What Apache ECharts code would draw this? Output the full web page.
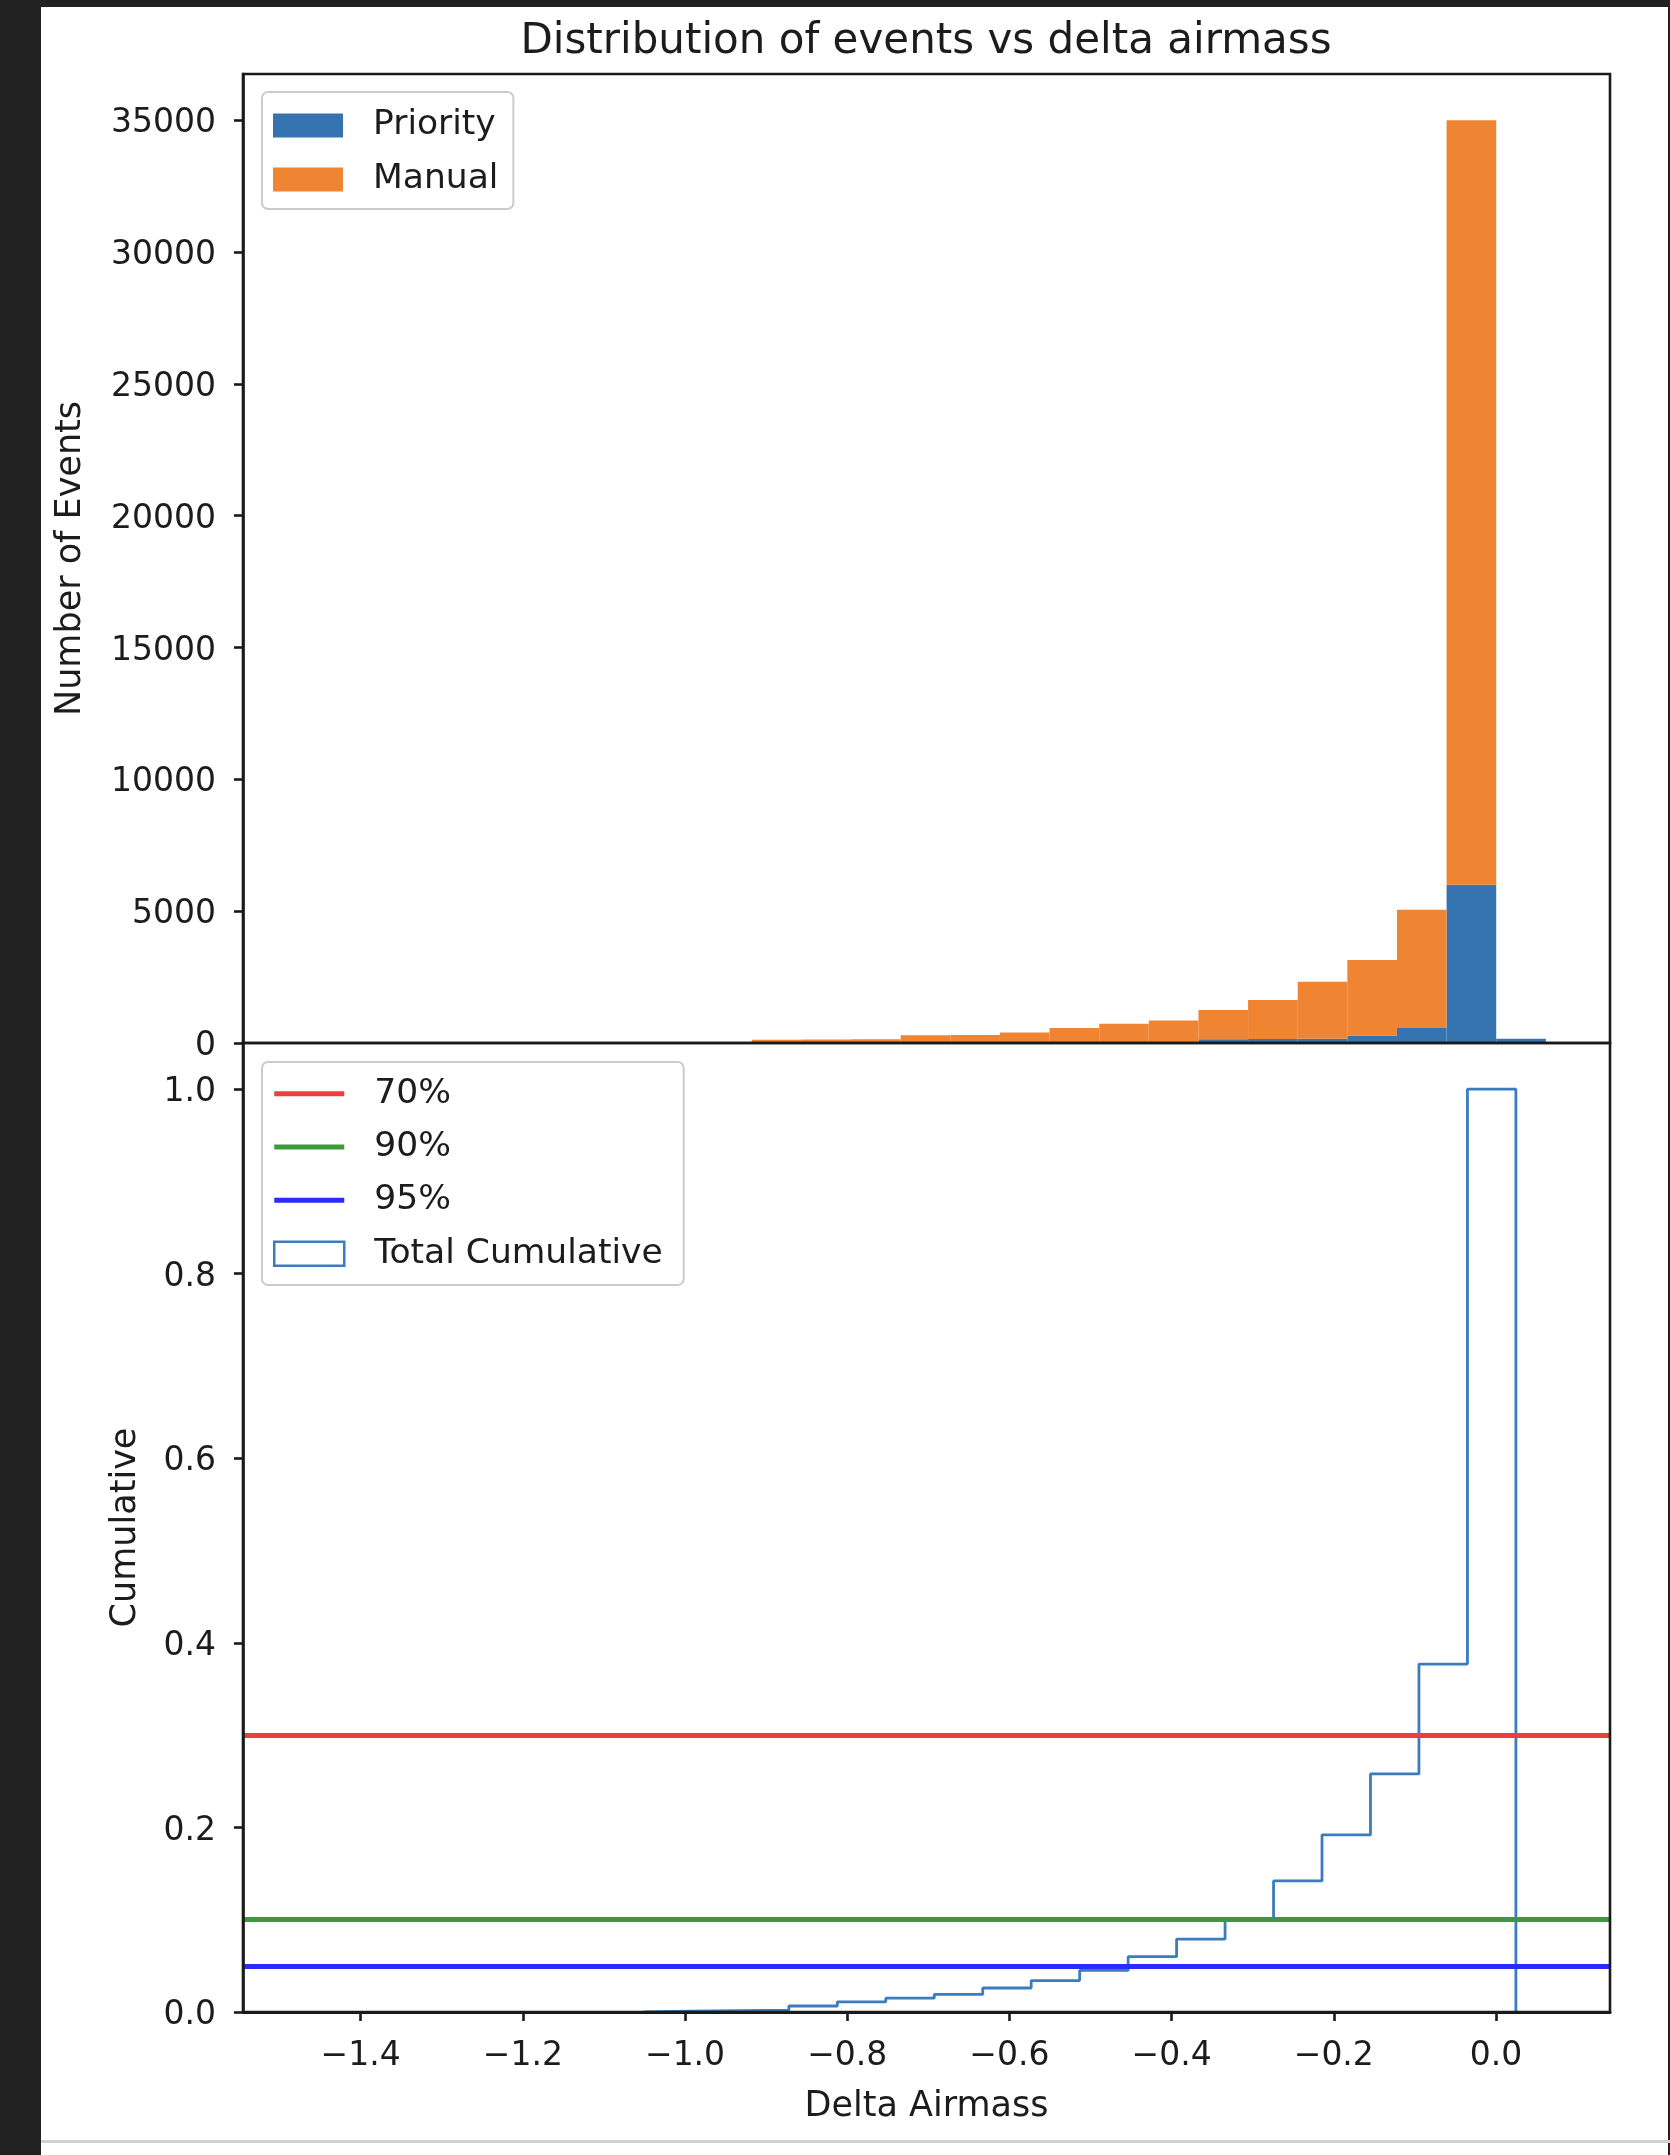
<!DOCTYPE html>
<html>
<head>
<meta charset="utf-8">
<script src="https://cdn.jsdelivr.net/npm/echarts@6/dist/echarts.min.js"></script>
<style>
  html, body { margin: 0; padding: 0; background: #212121; width: 1670px; height: 2155px; overflow: hidden; }
  #sheet { position: absolute; left: 41px; top: 7px; width: 1627px; height: 2148px; background: #ffffff; }
  #rule { position: absolute; left: 41px; top: 2140px; width: 1629px; height: 3px; background: #d0d0d0; }
  #chart { position: absolute; left: 0; top: 0; width: 1670px; height: 2155px; }
</style>
</head>
<body>
<div id="sheet"></div>
<div id="rule"></div>
<div id="chart"></div>
<script>
// ---- Event histogram: 25 equal-width bins of delta airmass ----
const histStart = -1.4685;
const histBinWidth = 0.0612;
const priorityCounts = [0, 0, 0, 0, 0, 0, 0, 0, 0, 3, 4, 6, 8, 10, 14, 20, 28, 40, 140, 150, 165, 280, 570, 6000, 160];
const manualCounts   = [1, 0, 0, 0, 0, 0, 0, 0, 0, 117, 126, 134, 282, 290, 386, 550, 702, 810, 1110, 1480, 2155, 2870, 4480, 29000, 0];

// ---- Cumulative fraction of all events, own 25 bins ----
const cumStart = -1.4697;
const cumBinWidth = 0.05977;
const cumulativeFraction = [0, 0, 0, 0, 0, 0, 0, 0.001, 0.0015, 0.002, 0.0065, 0.011, 0.015, 0.019, 0.026, 0.034, 0.045, 0.060, 0.079, 0.100, 0.142, 0.192, 0.258, 0.377, 1.0];

// ---- Reference levels (1 - percentile) ----
const levelNames = ['70%', '90%', '95%'];
const levelValues = [0.3, 0.1, 0.05];

// ---- Axis limits and ticks ----
const xLimits = [-1.5451, 0.1406];
const countMax = 36750;
const cumMax = 1.05;
const xTicks = [-1.4, -1.2, -1.0, -0.8, -0.6, -0.4, -0.2, 0.0];
const countTicks = [0, 5000, 10000, 15000, 20000, 25000, 30000, 35000];
const cumTicks = [0.0, 0.2, 0.4, 0.6, 0.8, 1.0];

const FONT = 'DejaVu Sans';
const INK = '#1c1c1c';
const SPINE = '#1a1a1a';
const barColors = { Priority: '#3674b1', Manual: '#ef8433' };
const levelColors = ['#ee3d3d', '#3d993d', '#2b2bff'];
const stepColor = '#3a7cbd';
const lineIcon = 'path://M0,0H70V5H0Z';

const chart = echarts.init(document.getElementById('chart'), null, { renderer: 'canvas' });

// stacked rectangles: [x0, x1, bottom, top]
function stackedRects(counts, below) {
  return counts.map((c, i) => {
    const x0 = histStart + i * histBinWidth;
    const base = below ? below[i] : 0;
    return [x0, x0 + histBinWidth, base, base + c];
  });
}
function rectRenderer(color) {
  return function (params, api) {
    const p0 = api.coord([api.value(0), api.value(2)]);
    const p1 = api.coord([api.value(1), api.value(3)]);
    const h = p0[1] - p1[1];
    if (h <= 0) return null;
    return {
      type: 'rect',
      shape: { x: p0[0], y: p1[1], width: p1[0] - p0[0], height: h },
      style: { fill: color }
    };
  };
}

// outline of the cumulative step histogram; the empty leading bins lie on the
// x axis itself, so the outline starts at the first populated bin
const firstFilled = cumulativeFraction.findIndex(v => v > 0);
const stepPoints = [[cumStart + firstFilled * cumBinWidth, 0]];
cumulativeFraction.forEach((v, i) => {
  if (i < firstFilled) return;
  const x0 = cumStart + i * cumBinWidth;
  stepPoints.push([x0, v], [x0 + cumBinWidth, v]);
});
stepPoints.push([cumStart + cumulativeFraction.length * cumBinWidth, 0]);

const minusFmt = v => (v < 0 ? '\u2212' : '') + Math.abs(v).toFixed(1);

const tickStyle = { show: true, inside: false, length: 9, lineStyle: { color: SPINE, width: 2.6 } };
const tickLabel = { color: INK, fontFamily: FONT, fontSize: 33 };
// y tick labels sit a touch below their tick
const yTickLabel = Object.assign({ verticalAlign: 'top', lineHeight: 7 }, tickLabel);
const nameStyle = { color: INK, fontFamily: FONT, fontSize: 35 };

const legendBase = {
  orient: 'vertical',
  itemWidth: 70,
  itemHeight: 24,
  backgroundColor: 'rgba(255,255,255,0.8)',
  borderColor: '#cccccc',
  borderWidth: 2,
  borderRadius: 6,
  selectedMode: false,
  textStyle: { color: INK, fontFamily: FONT, fontSize: 34.5, lineHeight: 34.5, padding: [14, 0, 0, 25] }
};

const option = {
  animation: false,
  title: {
    text: 'Distribution of events vs delta airmass',
    left: 926,
    top: 21,
    textAlign: 'center',
    padding: 0,
    textStyle: { color: INK, fontFamily: FONT, fontSize: 42, fontWeight: 'normal' }
  },
  legend: [
    Object.assign({}, legendBase, {
      left: 262, top: 92,
      itemGap: 5.5,
      padding: [9.2, 15, 5.3, 11],
      data: [
        { name: 'Priority', icon: 'rect' },
        { name: 'Manual', icon: 'rect' }
      ]
    }),
    Object.assign({}, legendBase, {
      left: 262, top: 1062,
      itemGap: 4.8,
      padding: [7.5, 21, 7, 11],
      data: levelNames.map((n, k) => ({
        name: n, icon: lineIcon,
        itemStyle: { color: levelColors[k], borderWidth: 0 }
      })).concat([
        { name: 'Total Cumulative', icon: 'rect',
          itemStyle: { color: '#ffffff', borderColor: stepColor, borderWidth: 2.5 } }
      ])
    })
  ],
  grid: [
    { left: 243, top: 74, width: 1367, height: 969, show: true, z: 6, borderColor: SPINE, borderWidth: 2.6, backgroundColor: 'transparent' },
    { left: 243, top: 1043, width: 1367, height: 969, show: true, z: 6, borderColor: SPINE, borderWidth: 2.6, backgroundColor: 'transparent' }
  ],
  xAxis: [
    {
      type: 'value', gridIndex: 0, min: xLimits[0], max: xLimits[1],
      axisLine: { show: false, onZero: false },
      axisTick: { show: false }, axisLabel: { show: false }, splitLine: { show: false }
    },
    {
      type: 'value', gridIndex: 1, min: xLimits[0], max: xLimits[1], z: 6,
      axisLine: { show: true, onZero: false, lineStyle: { color: SPINE, width: 3 } },
      axisTick: Object.assign({ customValues: xTicks }, tickStyle),
      axisLabel: Object.assign({ customValues: xTicks, margin: 28, formatter: minusFmt }, tickLabel),
      splitLine: { show: false },
      name: 'Delta Airmass', nameLocation: 'middle', nameGap: 77,
      nameTextStyle: nameStyle
    }
  ],
  yAxis: [
    {
      type: 'value', gridIndex: 0, min: 0, max: countMax, z: 6,
      axisLine: { show: true, onZero: false, lineStyle: { color: SPINE, width: 2.6 } },
      axisTick: Object.assign({ customValues: countTicks }, tickStyle),
      axisLabel: Object.assign({ customValues: countTicks, margin: 27, formatter: v => String(Math.round(v)) }, yTickLabel),
      splitLine: { show: false },
      name: 'Number of Events', nameLocation: 'middle', nameGap: 155, nameRotate: 90,
      nameTextStyle: nameStyle
    },
    {
      type: 'value', gridIndex: 1, min: 0, max: cumMax, z: 6,
      axisLine: { show: true, onZero: false, lineStyle: { color: SPINE, width: 2.6 } },
      axisTick: Object.assign({ customValues: cumTicks }, tickStyle),
      axisLabel: Object.assign({ customValues: cumTicks, margin: 27, formatter: v => v.toFixed(1) }, yTickLabel),
      splitLine: { show: false },
      name: 'Cumulative', nameLocation: 'middle', nameGap: 100, nameRotate: 90,
      nameTextStyle: nameStyle
    }
  ],
  series: [
    {
      name: 'Priority', type: 'custom', xAxisIndex: 0, yAxisIndex: 0,
      itemStyle: { color: barColors.Priority },
      encode: { x: [0, 1], y: [2, 3] },
      data: stackedRects(priorityCounts),
      renderItem: rectRenderer(barColors.Priority), z: 2
    },
    {
      name: 'Manual', type: 'custom', xAxisIndex: 0, yAxisIndex: 0,
      itemStyle: { color: barColors.Manual },
      encode: { x: [0, 1], y: [2, 3] },
      data: stackedRects(manualCounts, priorityCounts),
      renderItem: rectRenderer(barColors.Manual), z: 2
    },
    {
      name: 'Total Cumulative', type: 'line', xAxisIndex: 1, yAxisIndex: 1,
      data: stepPoints, symbol: 'none', silent: true, z: 2,
      itemStyle: { color: stepColor },
      lineStyle: { color: stepColor, width: 2.8 }
    }
  ].concat(levelNames.map((n, k) => ({
    name: n, type: 'line', xAxisIndex: 1, yAxisIndex: 1,
    data: [], symbol: 'none', z: 3,
    itemStyle: { color: levelColors[k] },
    lineStyle: { color: levelColors[k], width: 5 },
    markLine: {
      silent: true, symbol: ['none', 'none'], label: { show: false },
      lineStyle: { type: 'solid', color: levelColors[k], width: 5 },
      emphasis: { disabled: true },
      data: [{ yAxis: levelValues[k] }]
    }
  })))
};

chart.setOption(option);
</script>
</body>
</html>
